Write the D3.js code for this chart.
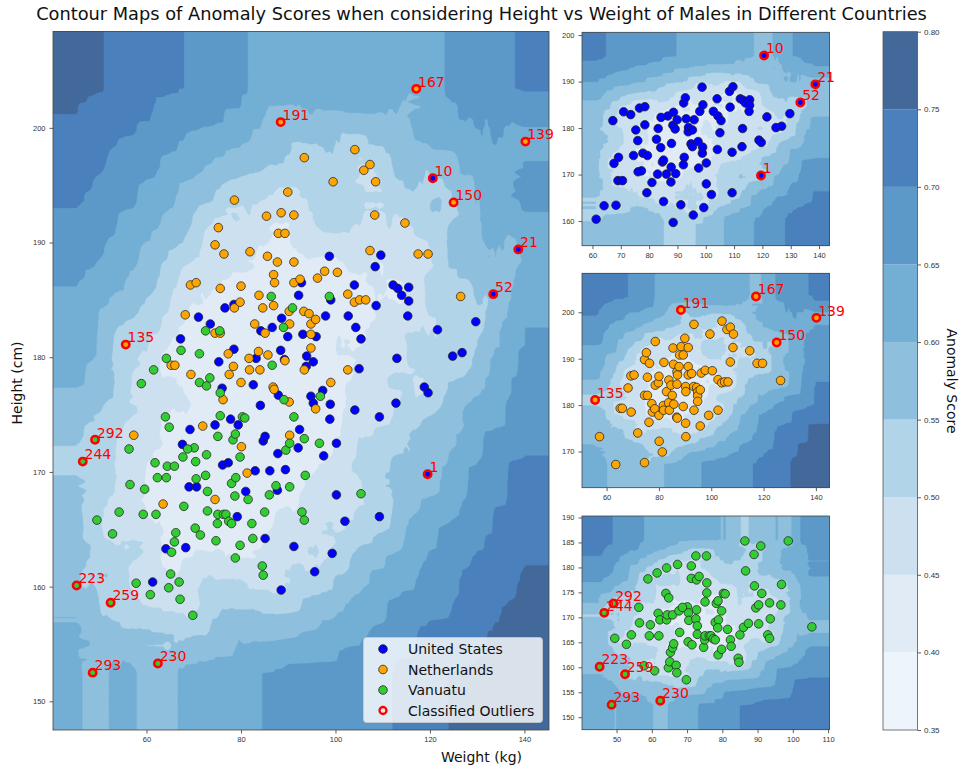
<!DOCTYPE html>
<html><head><meta charset="utf-8">
<script src="https://cdn.jsdelivr.net/npm/d3@7"></script>
<style>
body{margin:0;background:#fff;}
svg{display:block;font-family:"DejaVu Sans",sans-serif;}
.tick text{font-size:7.5px;fill:#333;}
.tick line{stroke:#333;stroke-width:0.8;}
.domain{display:none;}
</style></head><body>
<svg id="chart" width="963" height="767"></svg>
<script>
// ---------------- DATA ----------------
const usWeight = [61.3,64.1,68.3,67.6,69.2,69.0,70.6,67.2,71.0,73.5,76.6,78.5,75.3,76.0,78.5,74.5,77.8,79.4,76.1,77.3,79.2,81.0,83.0,82.6,83.2,84.2,84.1,84.7,85.1,85.1,86.6,86.1,87.8,87.7,87.9,88.6,88.4,89.2,89.9,89.4,88.5,91.2,92.4,92.1,92.2,92.8,93.1,93.9,93.8,95.3,95.9,94.8,95.3,95.6,97.3,97.5,97.9,98.8,98.9,99.0,98.7,99.3,100.2,100.2,102.0,102.7,104.0,104.1,104.3,105.0,105.4,108.6,108.4,109.6,109.3,109.3,112.2,113.2,114.0,112.8,113.0,115.5,115.5,115.3,118.8,119.6,121.6,124.8,126.8,129.7];
const usHeight = [160.4,163.3,163.4,172.4,173.7,168.7,168.7,181.6,183.5,182.9,184.3,184.6,179.6,177.3,180.7,174.1,174.6,174.1,170.6,170.8,166.1,168.3,170.1,177.6,179.9,182.3,175.8,172.7,173.1,164.2,182.6,170.1,171.6,168.4,176.7,183.4,180.6,179.8,181.8,170.2,159.7,163.5,173.7,172.1,185.4,186.5,182.0,180.1,179.2,179.6,181.8,176.6,176.0,161.3,177.1,171.4,183.6,174.6,175.9,185.0,188.8,162.9,172.5,168.0,165.7,183.6,186.3,175.4,182.6,179.0,181.6,184.5,187.9,188.9,174.8,166.1,186.3,186.0,185.4,176.0,179.9,186.1,184.9,183.6,177.4,176.9,182.4,180.1,180.4,183.1];

const nlWeight = [57.3,63.5,65.2,66.0,68.2,69.3,70.5,69.4,71.9,74.5,75.2,76.4,74.5,75.6,75.6,74.5,76.2,77.3,77.5,78.4,78.6,78.6,79.8,80.0,80.0,80.1,81.3,81.7,81.9,81.8,82.9,83.8,83.7,84.0,84.6,85.1,85.4,85.6,85.7,86.8,87.0,86.9,87.1,86.9,87.7,87.9,88.5,89.3,89.3,89.9,90.2,90.3,90.2,90.3,91.2,91.2,91.2,92.5,93.3,93.4,93.4,94.4,94.8,94.8,94.8,95.8,95.8,96.2,97.7,99.0,99.5,100.4,102.6,102.6,104.0,105.1,106.4,104.1,106.0,107.3,108.5,108.3,107.3,114.7,117.5,119.6,126.5];
const nlHeight = [173.2,167.2,179.3,179.3,183.7,186.3,186.5,178.5,174.0,189.8,191.3,189.0,182.1,182.1,186.0,167.6,176.3,180.3,178.5,179.2,193.7,184.3,184.8,186.2,177.8,172.2,169.9,179.9,189.2,178.9,182.9,185.4,180.5,178.9,184.3,182.1,192.3,188.8,180.2,177.4,177.2,187.2,186.5,184.5,188.3,190.8,192.6,190.8,179.7,194.4,184.0,182.9,176.1,173.2,188.3,192.4,186.5,186.8,184.0,178.9,197.4,183.8,182.9,182.0,180.8,183.3,175.5,186.9,187.5,177.8,195.3,187.4,178.9,185.5,184.8,185.0,185.0,198.1,196.3,196.8,195.3,192.4,189.3,191.7,189.0,189.0,185.3];

const vuWeight = [49.5,52.8,54.2,56.3,56.5,57.8,58.9,59.6,59.3,60.8,61.5,61.8,62.0,62.3,64.0,64.2,64.2,64.4,64.8,64.7,65.1,65.3,65.9,66.2,65.9,66.9,67.1,67.3,67.7,67.9,69.8,70.1,70.4,70.5,70.3,71.2,71.2,71.4,72.5,72.7,73.4,72.7,72.5,72.9,72.9,74.7,75.0,75.1,75.1,75.5,75.6,75.6,76.3,76.8,77.4,78.0,78.3,78.8,78.0,78.9,78.7,78.8,79.8,79.8,80.3,80.8,81.5,82.3,82.5,84.5,84.7,85.0,86.0,86.4,86.6,87.4,89.0,89.1,89.5,90.3,90.3,90.9,91.2,92.9,93.4,93.4,93.6,96.6,96.8,98.7,105.4,68.7];
const vuHeight = [165.8,164.6,166.5,172.0,168.9,160.3,177.7,168.5,166.3,159.3,178.9,170.8,166.3,169.5,174.8,179.9,169.5,170.5,173.9,159.9,161.1,163.0,163.9,164.7,170.5,160.4,158.9,180.6,171.3,167.0,157.5,172.1,170.9,169.4,165.1,180.3,177.8,164.5,182.3,177.5,178.2,171.5,169.7,168.3,166.6,164.0,165.5,166.3,173.1,182.3,176.9,174.9,166.3,166.3,165.7,165.5,172.8,173.3,169.0,169.5,167.9,162.5,163.6,171.3,174.8,174.7,167.6,165.5,164.2,161.8,161.0,166.5,168.0,185.3,179.3,168.8,182.6,176.3,171.9,172.5,168.7,184.3,174.8,166.5,165.8,172.9,169.7,172.5,176.6,185.3,168.1,172.0];

const outlierId      = [1, 10, 21, 52, 135, 139, 150, 167, 191, 223, 230, 244, 259, 292, 293];
const outlierCountry = ["US","US","US","US","NL","NL","NL","NL","NL","VU","VU","VU","VU","VU","VU"];
const outlierWeight  = [119.5,120.6,138.7,133.4,55.6,140.2,125.0,117.1,88.4,45.2,62.4,46.5,52.4,49.1,48.6];
const outlierHeight  = [169.8,195.6,189.4,185.5,181.1,198.8,193.5,203.4,200.5,160.1,153.3,170.9,158.6,172.8,152.5];

const countryCodes  = ["US","NL","VU"];
const countryNames  = ["United States","Netherlands","Vanuatu"];
const countryColors = ["#0000ff","#ffa500","#32cd32"];

const levels = [0.35,0.40,0.45,0.50,0.55,0.60,0.65,0.70,0.75,0.80];
const levelColors = ["#eef4fc","#e0ebf6","#cde0f0","#b2d4e8","#8ec0de","#73afd4","#5c99c9","#4a80bb","#43699b"];

// ---------------- HELPERS ----------------
const svg = d3.select("#chart");
const W = {US:usWeight, NL:nlWeight, VU:vuWeight};
const H = {US:usHeight, NL:nlHeight, VU:vuHeight};
function pointsOf(code){
  const pts = W[code].map((w,i)=>({w, h:H[code][i], code, out:false}));
  outlierId.forEach((id,i)=>{ if(outlierCountry[i]===code) pts.push({w:outlierWeight[i], h:outlierHeight[i], code, out:true, id}); });
  return pts;
}
const colorOf = c => countryColors[countryCodes.indexOf(c)];

// mass-based (axis-aligned box) isolation proxy -> anomaly score field
function field(pts, xd, yd, nx, ny, lo, hi, gamma){
  const [wmin,wmax] = d3.extent(pts,d=>d.w), [hmin,hmax] = d3.extent(pts,d=>d.h);
  const sx = wmax-wmin, sy = hmax-hmin;
  const U = pts.map(d=>d.w/sx), V = pts.map(d=>d.h/sy);
  const R = 11, radii = d3.range(R).map(i=>0.022*Math.pow(1.42,i));
  const hv = new Float64Array(nx*ny);
  const cnt = new Float64Array(R);
  for(let j=0;j<ny;j++){
    const yy = Math.max(hmin, Math.min(hmax, yd[0] + j*(yd[1]-yd[0])/(ny-1)));
    const y = yy/sy;
    for(let i=0;i<nx;i++){
      const xx = Math.max(wmin, Math.min(wmax, xd[0] + i*(xd[1]-xd[0])/(nx-1)));
      const x = xx/sx;
      cnt.fill(0);
      for(let p=0;p<U.length;p++){
        const d = Math.max(Math.abs(x-U[p]), Math.abs(y-V[p]));
        for(let r=0;r<R;r++){ if(d<radii[r]){cnt[r]++;break;} }
      }
      let acc=0, h=0;
      for(let r=0;r<R;r++){ acc+=cnt[r]; h+=Math.log2(1+acc); }
      hv[j*nx+i]=h;
    }
  }
  const mn = d3.min(hv), mx = d3.max(hv);
  const vals = new Array(nx*ny);
  for(let t=0;t<hv.length;t++){
    const v = lo + (hi-lo)*Math.pow((mx-hv[t])/(mx-mn), gamma);
    vals[t] = Math.max(0.3501, Math.min(0.7999, v));
  }
  return vals;
}

let clipN = 0;
function panel(opt){
  const {pts, x0, x1, y0, y1, xticks, yticks, lo, hi, gamma} = opt;
  const xd = [d3.min(pts,d=>d.w)-5, d3.max(pts,d=>d.w)+5];
  const yd = [d3.min(pts,d=>d.h)-5, d3.max(pts,d=>d.h)+5];
  const xs = d3.scaleLinear().domain(xd).range([x0,x1]);
  const ys = d3.scaleLinear().domain(yd).range([y1,y0]);
  const id = "clip"+(clipN++);
  svg.append("clipPath").attr("id",id).append("rect").attr("x",x0).attr("y",y0).attr("width",x1-x0).attr("height",y1-y0);
  const g = svg.append("g");
  const cg = g.append("g").attr("clip-path",`url(#${id})`);
  const nx = opt.nx, ny = opt.ny;
  const vals = field(pts, xd, yd, nx, ny, lo, hi, gamma);
  const ddx = (xd[1]-xd[0])/(nx-1), ddy = (yd[1]-yd[0])/(ny-1);
  const proj = d3.geoTransform({point(px,py){ this.stream.point(xs(xd[0]+(px-0.5)*ddx), ys(yd[0]+(py-0.5)*ddy)); }});
  const path = d3.geoPath(proj);
  const cont = d3.contours().size([nx,ny]).thresholds(levels.slice(0,9))(vals);
  cg.selectAll("path.c").data(cont).join("path").attr("class","c")
    .attr("d",path).attr("fill",d=>levelColors[levels.indexOf(d.value)]).attr("stroke",d=>levelColors[levels.indexOf(d.value)]).attr("stroke-width",0.3);
  const reg = pts.filter(d=>!d.out), outs = pts.filter(d=>d.out);
  cg.selectAll("circle.p").data(reg).join("circle").attr("class","p")
    .attr("cx",d=>xs(d.w)).attr("cy",d=>ys(d.h)).attr("r",4.3)
    .attr("fill",d=>colorOf(d.code)).attr("stroke","#222").attr("stroke-width",0.9).attr("stroke-opacity",0.85);
  cg.selectAll("circle.o").data(outs).join("circle").attr("class","o")
    .attr("cx",d=>xs(d.w)).attr("cy",d=>ys(d.h)).attr("r",3.7)
    .attr("fill",d=>colorOf(d.code)).attr("stroke","#ff0000").attr("stroke-width",2.5);
  g.selectAll("text.ol").data(outs).join("text").attr("class","ol")
    .attr("x",d=>xs(d.w)+1.8).attr("y",d=>ys(d.h)-2.3)
    .attr("fill","#ff0000").style("font-size","14px").text(d=>d.id);
  g.append("g").attr("transform",`translate(0,${y1})`)
    .call(d3.axisBottom(xs).tickValues(xticks).tickSize(3.5).tickPadding(3).tickFormat(d3.format("d")));
  g.append("g").attr("transform",`translate(${x0},0)`)
    .call(d3.axisLeft(ys).tickValues(yticks).tickSize(3.5).tickPadding(4).tickFormat(d3.format("d")));
  g.append("rect").attr("x",x0).attr("y",y0).attr("width",x1-x0).attr("height",y1-y0)
    .attr("fill","none").attr("stroke","#444").attr("stroke-width",0.8);
}

const allPts = [].concat(pointsOf("US"), pointsOf("NL"), pointsOf("VU"));

panel({pts:allPts, x0:53, x1:549, y0:31.5, y1:730, nx:150, ny:150, lo:0.405, hi:0.79, gamma:1.3,
  xticks:[60,80,100,120,140], yticks:[150,160,170,180,190,200]});
panel({pts:pointsOf("US"), x0:582, x1:829.5, y0:32.3, y1:245.7, nx:110, ny:110, lo:0.41, hi:0.74, gamma:1.3,
  xticks:[60,70,80,90,100,110,120,130,140], yticks:[160,170,180,190,200]});
panel({pts:pointsOf("NL"), x0:582, x1:829.5, y0:273.3, y1:487.7, nx:110, ny:110, lo:0.41, hi:0.785, gamma:1.3,
  xticks:[60,80,100,120,140], yticks:[170,180,190,200]});
panel({pts:pointsOf("VU"), x0:582, x1:829.5, y0:516, y1:729.7, nx:110, ny:110, lo:0.40, hi:0.745, gamma:1.3,
  xticks:[50,60,70,80,90,100,110], yticks:[150,155,160,165,170,175,180,185,190]});

// legend
const lg = svg.append("g");
lg.append("rect").attr("x",363.5).attr("y",637.5).attr("width",179).attr("height",85).attr("rx",3)
  .attr("fill","#ffffff").attr("fill-opacity",0.8).attr("stroke","#cccccc").attr("stroke-width",0.8);
const legendRows = countryNames.concat(["Classified Outliers"]);
legendRows.forEach((name,i)=>{
  const y = 649 + i*20.5;
  if(i<3) lg.append("circle").attr("cx",383).attr("cy",y).attr("r",4.3).attr("fill",countryColors[i]).attr("stroke","#222").attr("stroke-width",0.8);
  else lg.append("circle").attr("cx",383).attr("cy",y).attr("r",3.5).attr("fill","none").attr("stroke","#ff0000").attr("stroke-width",2.3);
  lg.append("text").attr("x",408).attr("y",y+5).style("font-size","14px").attr("fill","#111").text(name);
});

// colorbar
const cbx0 = 883, cbx1 = 917.5, cby0 = 31.7, cby1 = 730;
const cs = d3.scaleLinear().domain([0.35,0.80]).range([cby1,cby0]);
const cb = svg.append("g");
cb.selectAll("rect.cb").data(levelColors).join("rect").attr("class","cb")
  .attr("x",cbx0).attr("width",cbx1-cbx0).attr("y",(d,i)=>cs(levels[i+1])).attr("height",(d,i)=>cs(levels[i])-cs(levels[i+1]))
  .attr("fill",d=>d);
cb.append("rect").attr("x",cbx0).attr("y",cby0).attr("width",cbx1-cbx0).attr("height",cby1-cby0).attr("fill","none").attr("stroke","#555").attr("stroke-width",0.8);
cb.append("g").attr("transform",`translate(${cbx1},0)`).call(d3.axisRight(cs).tickValues(levels).tickSize(3.5).tickPadding(3).tickFormat(d3.format(".2f")))
  .selectAll("text").style("font-size","8px");

// texts
svg.append("text").attr("x",481.5).attr("y",19.5).attr("text-anchor","middle").style("font-size","17.8px").attr("fill","#111")
  .text("Contour Maps of Anomaly Scores when considering Height vs Weight of Males in Different Countries");
svg.append("text").attr("x",481.5).attr("y",762).attr("text-anchor","middle").style("font-size","14px").attr("fill","#111").text("Weight (kg)");
svg.append("text").attr("transform","translate(22,383) rotate(-90)").attr("text-anchor","middle").style("font-size","14px").attr("fill","#111").text("Height (cm)");
svg.append("text").attr("transform","translate(947,381) rotate(90)").attr("text-anchor","middle").style("font-size","14px").attr("fill","#111").text("Anomaly Score");
</script>
</body></html>
